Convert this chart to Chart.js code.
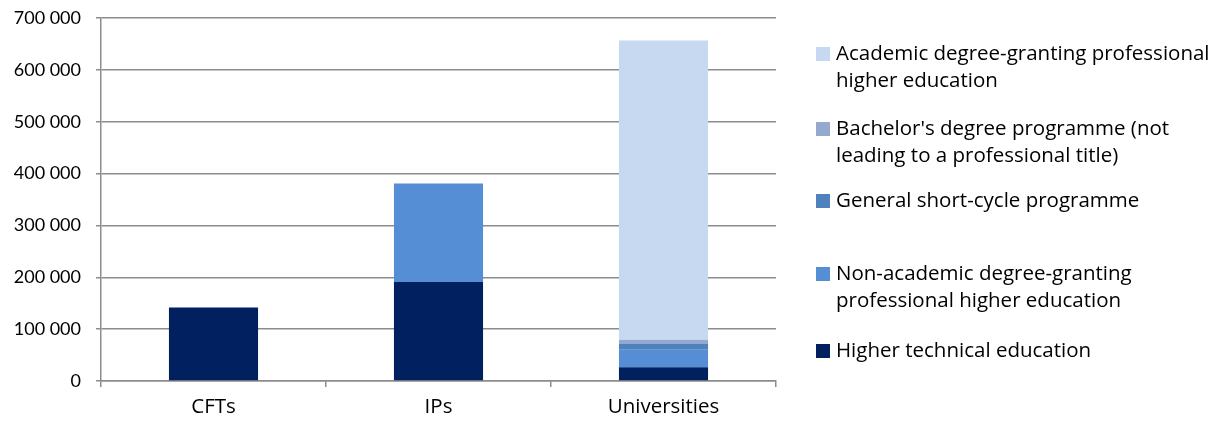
<!DOCTYPE html>
<html>
<head>
<meta charset="utf-8">
<script src="https://cdn.jsdelivr.net/npm/chart.js@4"></script>
<style>
  html, body { margin:0; padding:0; background:#fff; }
  #wrap { position:relative; width:1226px; height:423px; }
  #c { position:absolute; left:0; top:0; }
  .lg { position:absolute; left:816px; font-family: "Open Sans", Lato, sans-serif; font-size:20.5px; line-height:27px; color:#000; white-space:nowrap; }
  .lg .sw { position:absolute; left:0; top:8px; width:14px; height:14px; }
  .lg .tx { position:absolute; left:20px; top:0; }
</style>
</head>
<body>
<div id="wrap">
  <canvas id="c" width="1226" height="423"></canvas>
  <div id="legend"></div>
</div>
<script>
const categories = ['CFTs', 'IPs', 'Universities'];
const higherTechnical = [141500, 191000, 26500];
const nonAcademic = [0, 190000, 34000];
const generalShortCycle = [0, 0, 12000];
const bachelorNonProfessional = [0, 0, 7000];
const academicProfessional = [0, 0, 577000];
const yTicks = [0, 100000, 200000, 300000, 400000, 500000, 600000, 700000];

const seriesNames = [
  'Higher technical education',
  'Non-academic degree-granting professional higher education',
  'General short-cycle programme',
  "Bachelor's degree programme (not leading to a professional title)",
  'Academic degree-granting professional higher education'
];
const legendLines = [
  ['Higher technical education'],
  ['Non-academic degree-granting', 'professional higher education'],
  ['General short-cycle programme'],
  ["Bachelor's degree programme (not", 'leading to a professional title)'],
  ['Academic degree-granting professional', 'higher education']
];
const colors = ['#00205F', '#558ED5', '#4F81BD', '#95A9D0', '#C6D9F1'];
const values = [higherTechnical, nonAcademic, generalShortCycle, bachelorNonProfessional, academicProfessional];

const fmt = v => String(v).replace(/\B(?=(\d{3})+(?!\d))/g, ' ');

new Chart(document.getElementById('c'), {
  type: 'bar',
  data: {
    labels: categories,
    datasets: values.map((d, i) => ({
      label: seriesNames[i],
      data: d,
      backgroundColor: colors[i],
      borderWidth: 0,
      categoryPercentage: 1,
      barPercentage: 0.396
    }))
  },
  options: {
    responsive: false,
    animation: false,
    devicePixelRatio: 1,
    layout: { padding: { left: 0, right: 450, top: 18, bottom: 0 } },
    plugins: { legend: { display: false }, tooltip: { enabled: false } },
    scales: {
      x: {
        stacked: true,
        grid: { display: true, drawOnChartArea: false, drawTicks: true, tickLength: 6, color: '#8c8c8c', lineWidth: 1.5, offset: true },
        border: { display: true, color: '#8c8c8c', width: 1.5 },
        ticks: { color: '#000', font: { family: '"Open Sans"', size: 20.5 }, padding: 8 },
        afterFit: s => { s.height = 42; s.paddingLeft = 0; s.paddingRight = 0; }
      },
      y: {
        stacked: true,
        min: 0, max: 700000,
        afterBuildTicks: s => { s.ticks = yTicks.map(v => ({ value: v })); },
        grid: { color: '#8c8c8c', lineWidth: 1.5, drawTicks: true, tickLength: 5, tickColor: '#8c8c8c' },
        border: { display: true, color: '#8c8c8c', width: 1.5 },
        ticks: { color: '#000', font: { family: 'Lato', size: 18 }, padding: 15, callback: v => fmt(v) },
        afterFit: s => { s.width = 101; s.paddingTop = 0; s.paddingBottom = 0; }
      }
    }
  }
});

const tops = [336, 259, 186, 114, 39];
const lg = document.getElementById('legend');
for (let i = values.length - 1; i >= 0; i--) {
  const d = document.createElement('div');
  d.className = 'lg';
  d.style.top = tops[i] + 'px';
  const sw = document.createElement('div');
  sw.className = 'sw';
  sw.style.background = colors[i];
  const tx = document.createElement('div');
  tx.className = 'tx';
  tx.innerHTML = legendLines[i].join('<br>');
  d.appendChild(sw); d.appendChild(tx);
  lg.appendChild(d);
}
</script>
</body>
</html>
